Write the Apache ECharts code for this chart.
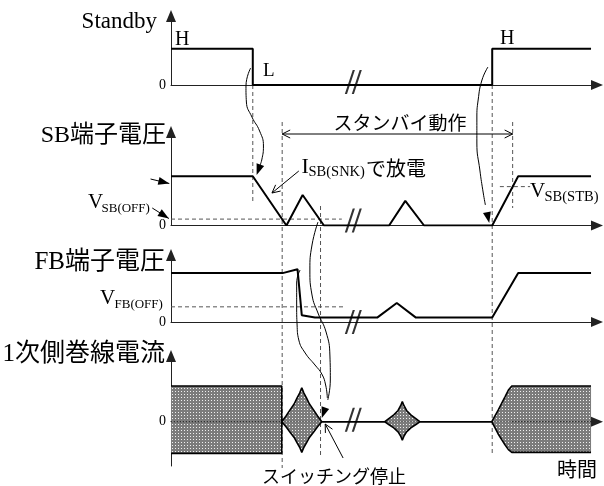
<!DOCTYPE html>
<html lang="ja">
<head>
<meta charset="utf-8">
<title>スタンバイ動作タイミング</title>
<script src="https://cdn.jsdelivr.net/npm/echarts@6.0.0/dist/echarts.min.js"></script>
<style>
html, body { margin: 0; padding: 0; background: #fff; }
#chart { width: 604px; height: 486px; }
</style>
</head>
<body>
<div id="chart"></div>
<script>
// ---------- waveforms: [time, level] ----------
// time runs 0..100 in every panel, levels are relative to the panel's high state
const standbyWave = [[0, 1], [19.2, 1], [19.2, 0], [75.4, 0], [75.4, 1], [98.6, 1]];
const sbWave = [[0, 1], [19.2, 1], [27.1, 0], [30.9, 0.62], [35.9, 0], [51.2, 0],
  [55.0, 0.50], [59.4, 0], [75.4, 0], [81.5, 1], [98.6, 1]];
const fbWave = [[0, 1], [26.2, 1], [29.7, 1.08], [30.7, 0.14], [33.8, 0.09], [48.4, 0.09],
  [53.0, 0.39], [57.5, 0.09], [75.4, 0.09], [81.5, 1], [98.6, 1]];
// primary winding current envelope (upper and lower edge)
const currentUpper = [[0, 1.05], [26.0, 1.05], [26.0, 0],
  [27.0, 0.17], [27.9, 0.34], [28.9, 0.52], [29.6, 0.70], [30.2, 0.84], [30.7, 1.0],
  [31.2, 0.84], [31.8, 0.70], [32.5, 0.52], [33.5, 0.34], [34.4, 0.17], [35.4, 0],
  [50.2, 0], [51.2, 0.10], [52.3, 0.20], [53.3, 0.33], [53.9, 0.47], [54.3, 0.59],
  [54.7, 0.47], [55.3, 0.33], [56.3, 0.20], [57.4, 0.10], [58.4, 0],
  [75.3, 0], [76.8, 0.34], [78.4, 0.73], [79.2, 0.93], [80.0, 1.05], [98.6, 1.05]];
const currentLower = [[0, -0.93], [26.0, -0.93], [26.0, 0],
  [27.0, -0.15], [27.9, -0.30], [28.9, -0.46], [29.6, -0.62], [30.2, -0.75], [30.7, -0.90],
  [31.2, -0.75], [31.8, -0.62], [32.5, -0.46], [33.5, -0.30], [34.4, -0.15], [35.4, 0],
  [50.2, 0], [51.2, -0.09], [52.3, -0.18], [53.3, -0.30], [53.9, -0.42], [54.3, -0.54],
  [54.7, -0.42], [55.3, -0.30], [56.3, -0.18], [57.4, -0.09], [58.4, 0],
  [75.3, 0], [76.8, -0.36], [78.4, -0.68], [79.2, -0.82], [80.0, -0.90], [98.6, -0.90]];

// threshold levels
const SB_OFF = 0.13;
const SB_STB = 0.79;
const FB_OFF = 0.31;

// event times
const T_STANDBY_FALL = 19.2;
const T_SB_OFF_1 = 26.1;
const T_SB_OFF_2 = 35.1;
const T_STANDBY_RISE = 75.4;
const T_SB_STB = 80.2;
const T_BREAK = 42.8;

// ---------- layout ----------
const W = 604, H = 486;
const PLOT_LEFT = 171, PLOT_W = 426, T_MAX = 100;
const panels = [
  { top: 16,  height: 69,   min: 0,    max: 1.9,  interval: 1.9,  breakLift: -3 },
  { top: 132, height: 93.5, min: 0,    max: 1.9,  interval: 1.9,  breakLift: -5 },
  { top: 255, height: 67,   min: 0,    max: 1.37, interval: 1.37, breakLift: 0 },
  { top: 356, height: 110,  min: -1.3, max: 1.93, interval: 1.3,  breakLift: -2 }
];
const OV = panels.length; // index of the annotation layer

const SERIF = "'Liberation Serif', 'Noto Sans CJK JP', serif";
const JP = "'Noto Sans CJK JP', sans-serif";
const AXIS_COLOR = '#222';
const DASH_COLOR = '#555';

function makeDotPattern() {
  const c = document.createElement('canvas');
  c.width = 3; c.height = 3;
  const g = c.getContext('2d');
  g.fillStyle = '#7c7c7c'; g.fillRect(0, 0, 3, 3);
  g.fillStyle = '#f0f0f0'; g.fillRect(1, 1, 1, 1);
  return c;
}

const grids = panels.map(p => ({
  left: PLOT_LEFT, top: p.top, width: PLOT_W, height: p.height, outerBoundsMode: 'none'
}));
grids.push({ left: 0, top: 0, width: PLOT_LEFT + PLOT_W, height: H, outerBoundsMode: 'none' });

const xAxes = panels.map((p, i) => ({
  type: 'value', gridIndex: i, min: 0, max: T_MAX,
  axisLine: { show: true, onZero: true, symbol: ['none', 'triangle'], symbolSize: [10, 12],
    lineStyle: { color: AXIS_COLOR, width: 1 } },
  axisTick: { show: false }, axisLabel: { show: false }, splitLine: { show: false }
}));
xAxes.push({ type: 'value', gridIndex: OV, min: -PLOT_LEFT * T_MAX / PLOT_W, max: T_MAX, show: false });

const yAxes = panels.map((p, i) => ({
  type: 'value', gridIndex: i, min: p.min, max: p.max, interval: p.interval,
  axisLine: { show: true, onZero: false, symbol: ['none', 'triangle'], symbolSize: [10, 12],
    lineStyle: { color: AXIS_COLOR, width: 1 } },
  axisTick: { show: false }, splitLine: { show: false },
  axisLabel: { show: true, margin: 5, color: '#000', fontFamily: SERIF, fontSize: 14,
    formatter: v => (Math.abs(v) < 1e-9 ? '0' : '') }
}));
yAxes.push({ type: 'value', gridIndex: OV, min: 0, max: H, inverse: true, show: false });

const series = [];
const wave = (i, data) => ({
  type: 'line', xAxisIndex: i, yAxisIndex: i, data, symbol: 'none', showSymbol: false,
  lineStyle: { color: '#000', width: 2 }, z: 3, silent: true
});
const dashed = (i, data) => ({
  type: 'line', xAxisIndex: i, yAxisIndex: i, data, symbol: 'none', showSymbol: false,
  lineStyle: { color: DASH_COLOR, width: 1, type: [4, 3] }, z: 2, silent: true
});

series.push(wave(0, standbyWave));
series.push(wave(1, sbWave));
series.push(wave(2, fbWave));
series.push(dashed(1, [[0, SB_OFF], [40.1, SB_OFF]]));
series.push(dashed(1, [[77.2, SB_STB], [84.3, SB_STB]]));
series.push(dashed(2, [[0, FB_OFF], [40.8, FB_OFF]]));

const dots = makeDotPattern();
[currentUpper, currentLower].forEach(env => series.push({
  type: 'line', xAxisIndex: 3, yAxisIndex: 3, data: env, symbol: 'none', showSymbol: false,
  lineStyle: { color: '#000', width: 1.6 },
  areaStyle: { color: { image: dots, repeat: 'repeat' }, opacity: 1 },
  z: 2, silent: true
}));
// zero line seen through the shaded blocks
[[[0, 0], [26.0, 0]], [[80.0, 0], [98.6, 0]]].forEach(seg => series.push({
  type: 'line', xAxisIndex: 3, yAxisIndex: 3, data: seg, symbol: 'none', showSymbol: false,
  lineStyle: { color: '#222', width: 1, type: [1.5, 1.5] }, z: 3, silent: true
}));

// axis break marks
const BREAK_PATH = 'path://M0,24 L2.2,24 L10.2,0 L8,0 Z M7,24 L9.2,24 L17.2,0 L15,0 Z';
panels.forEach((p, i) => series.push({
  type: 'scatter', xAxisIndex: i, yAxisIndex: i, data: [[T_BREAK, 0]],
  symbol: BREAK_PATH, symbolSize: [17, 24], symbolOffset: [0, p.breakLift],
  itemStyle: { color: '#000' }, z: 6, silent: true
}));

// ---------- annotation layer: [time, page row] ----------
const curves = [
  [[18.7, 68], [17.6, 86], [17.7, 102], [19.0, 117], [20.8, 131], [21.7, 146], [21.3, 160], [20.7, 167]],
  [[74.4, 67], [73.0, 80], [72.1, 100], [71.8, 118], [71.8, 143], [72.5, 170], [73.3, 193], [73.8, 205]],
  [[34.5, 222], [33.1, 245], [32.6, 270], [33.1, 295], [34.5, 313], [36.4, 332], [37.3, 355], [37.4, 380], [36.8, 400]],
  [[30.3, 270], [29.5, 283], [29.5, 307], [29.6, 325], [30.0, 340], [31.5, 353], [33.8, 365], [35.4, 374], [36.3, 385], [36.7, 398]]
];
curves.forEach(c => series.push({
  type: 'line', xAxisIndex: OV, yAxisIndex: OV, data: c, smooth: 0.5, symbol: 'none',
  showSymbol: false, lineStyle: { color: '#000', width: 1 }, z: 5, silent: true
}));

// [t0, row0, t1, row1, head (1 filled, 2 open, 3 open both ends), shaft]
const arrows = [
  [21.2, 162, 20.1, 175, 1, 0],
  [73.5, 199, 74.7, 223, 1, 0],
  [36.6, 403, 35.4, 418, 1, 0],
  [-4.8, 179, -0.4, 183.5, 1, 1],
  [-4.4, 208, -0.5, 218.5, 1, 1],
  [30.0, 171, 23.7, 193, 2, 1],
  [40.4, 458, 36.2, 424, 2, 1],
  [26.1, 134, 80.2, 134, 3, 1]
];
series.push({
  type: 'custom', xAxisIndex: OV, yAxisIndex: OV, data: arrows, z: 6, silent: true, clip: false,
  renderItem(params, api) {
    const a = api.coord([api.value(0), api.value(1)]);
    const b = api.coord([api.value(2), api.value(3)]);
    const kind = api.value(4);
    const out = [];
    if (api.value(5)) {
      out.push({ type: 'line', shape: { x1: a[0], y1: a[1], x2: b[0], y2: b[1] },
        style: { stroke: '#000', lineWidth: 1 } });
    }
    const head = (tip, from) => {
      const dx = tip[0] - from[0], dy = tip[1] - from[1];
      const L = Math.hypot(dx, dy) || 1, ux = dx / L, uy = dy / L;
      const len = kind === 1 ? 11 : 8, half = 4;
      const bx = tip[0] - ux * len, by = tip[1] - uy * len;
      const p1 = [bx - uy * half, by + ux * half], p2 = [bx + uy * half, by - ux * half];
      if (kind === 1) return { type: 'polygon', shape: { points: [tip, p1, p2] }, style: { fill: '#000' } };
      return { type: 'polyline', shape: { points: [p1, tip, p2] }, style: { stroke: '#000', lineWidth: 1, fill: null } };
    };
    out.push(head(b, a));
    if (kind === 3) out.push(head(a, b));
    return { type: 'group', children: out };
  }
});

// dashed event guides: [time, row from, row to, light]
const guides = [
  [T_STANDBY_FALL, 85, 203, 0],
  [T_SB_OFF_1, 122, 468, 0],
  [T_SB_OFF_2, 206, 456, 0],
  [T_STANDBY_RISE, 85, 455, 0],
  [T_SB_STB, 122, 208, 0],
  [T_STANDBY_FALL, 387, 453, 1]
];
series.push({
  type: 'custom', xAxisIndex: OV, yAxisIndex: OV, data: guides, z: 1, silent: true, clip: false,
  renderItem(params, api) {
    const p1 = api.coord([api.value(0), api.value(1)]);
    const p2 = api.coord([api.value(0), api.value(2)]);
    const light = api.value(3);
    return { type: 'line', z2: light ? 50 : 0,
      shape: { x1: p1[0], y1: p1[1], x2: p2[0], y2: p2[1] },
      style: light ? { stroke: '#f2f2f2', lineWidth: 1, lineDash: [1.5, 1.5] }
                   : { stroke: DASH_COLOR, lineWidth: 1, lineDash: [4, 3] } };
  }
});

// ---------- text ----------
function txt(text, x, y, size, align, family) {
  return {
    type: 'text', x, y, silent: true, z: 10,
    style: { text, fill: '#000', font: `${size}px ${family || SERIF}`,
      align: align || 'left', verticalAlign: 'middle',
      textAlign: align || 'left', textVerticalAlign: 'middle' }
  };
}
const texts = [
  txt('Standby', 157, 22, 23, 'right'),
  txt('H', 175, 39.5, 20),
  txt('L', 263, 71, 19),
  txt('H', 500, 38.5, 20),
  txt('SB端子電圧', 166, 136, 24, 'right'),
  txt('V', 88, 202.5, 21),
  txt('SB(OFF)', 101.5, 208.5, 13),
  txt('FB端子電圧', 165, 262, 25, 'right'),
  txt('V', 100, 298, 21),
  txt('FB(OFF)', 114.5, 304.5, 13),
  txt('1次側巻線電流', 165, 354, 25, 'right'),
  txt('スタンバイ動作', 400, 123, 19, 'center', JP),
  txt('I', 301.5, 167.5, 22),
  txt('SB(SNK)', 308.5, 172.5, 14.5),
  txt('で放電', 366, 168.5, 20, 'left', JP),
  txt('V', 530, 191, 21),
  txt('SB(STB)', 544.5, 197.5, 14.5),
  txt('スイッチング停止', 262, 476, 18, 'left', JP),
  txt('時間', 557, 469, 20, 'left', JP)
];

const chart = echarts.init(document.getElementById('chart'), null, { renderer: 'canvas' });
chart.setOption({
  animation: false,
  backgroundColor: '#fff',
  grid: grids,
  xAxis: xAxes,
  yAxis: yAxes,
  series,
  graphic: { elements: texts }
});
</script>
</body>
</html>
